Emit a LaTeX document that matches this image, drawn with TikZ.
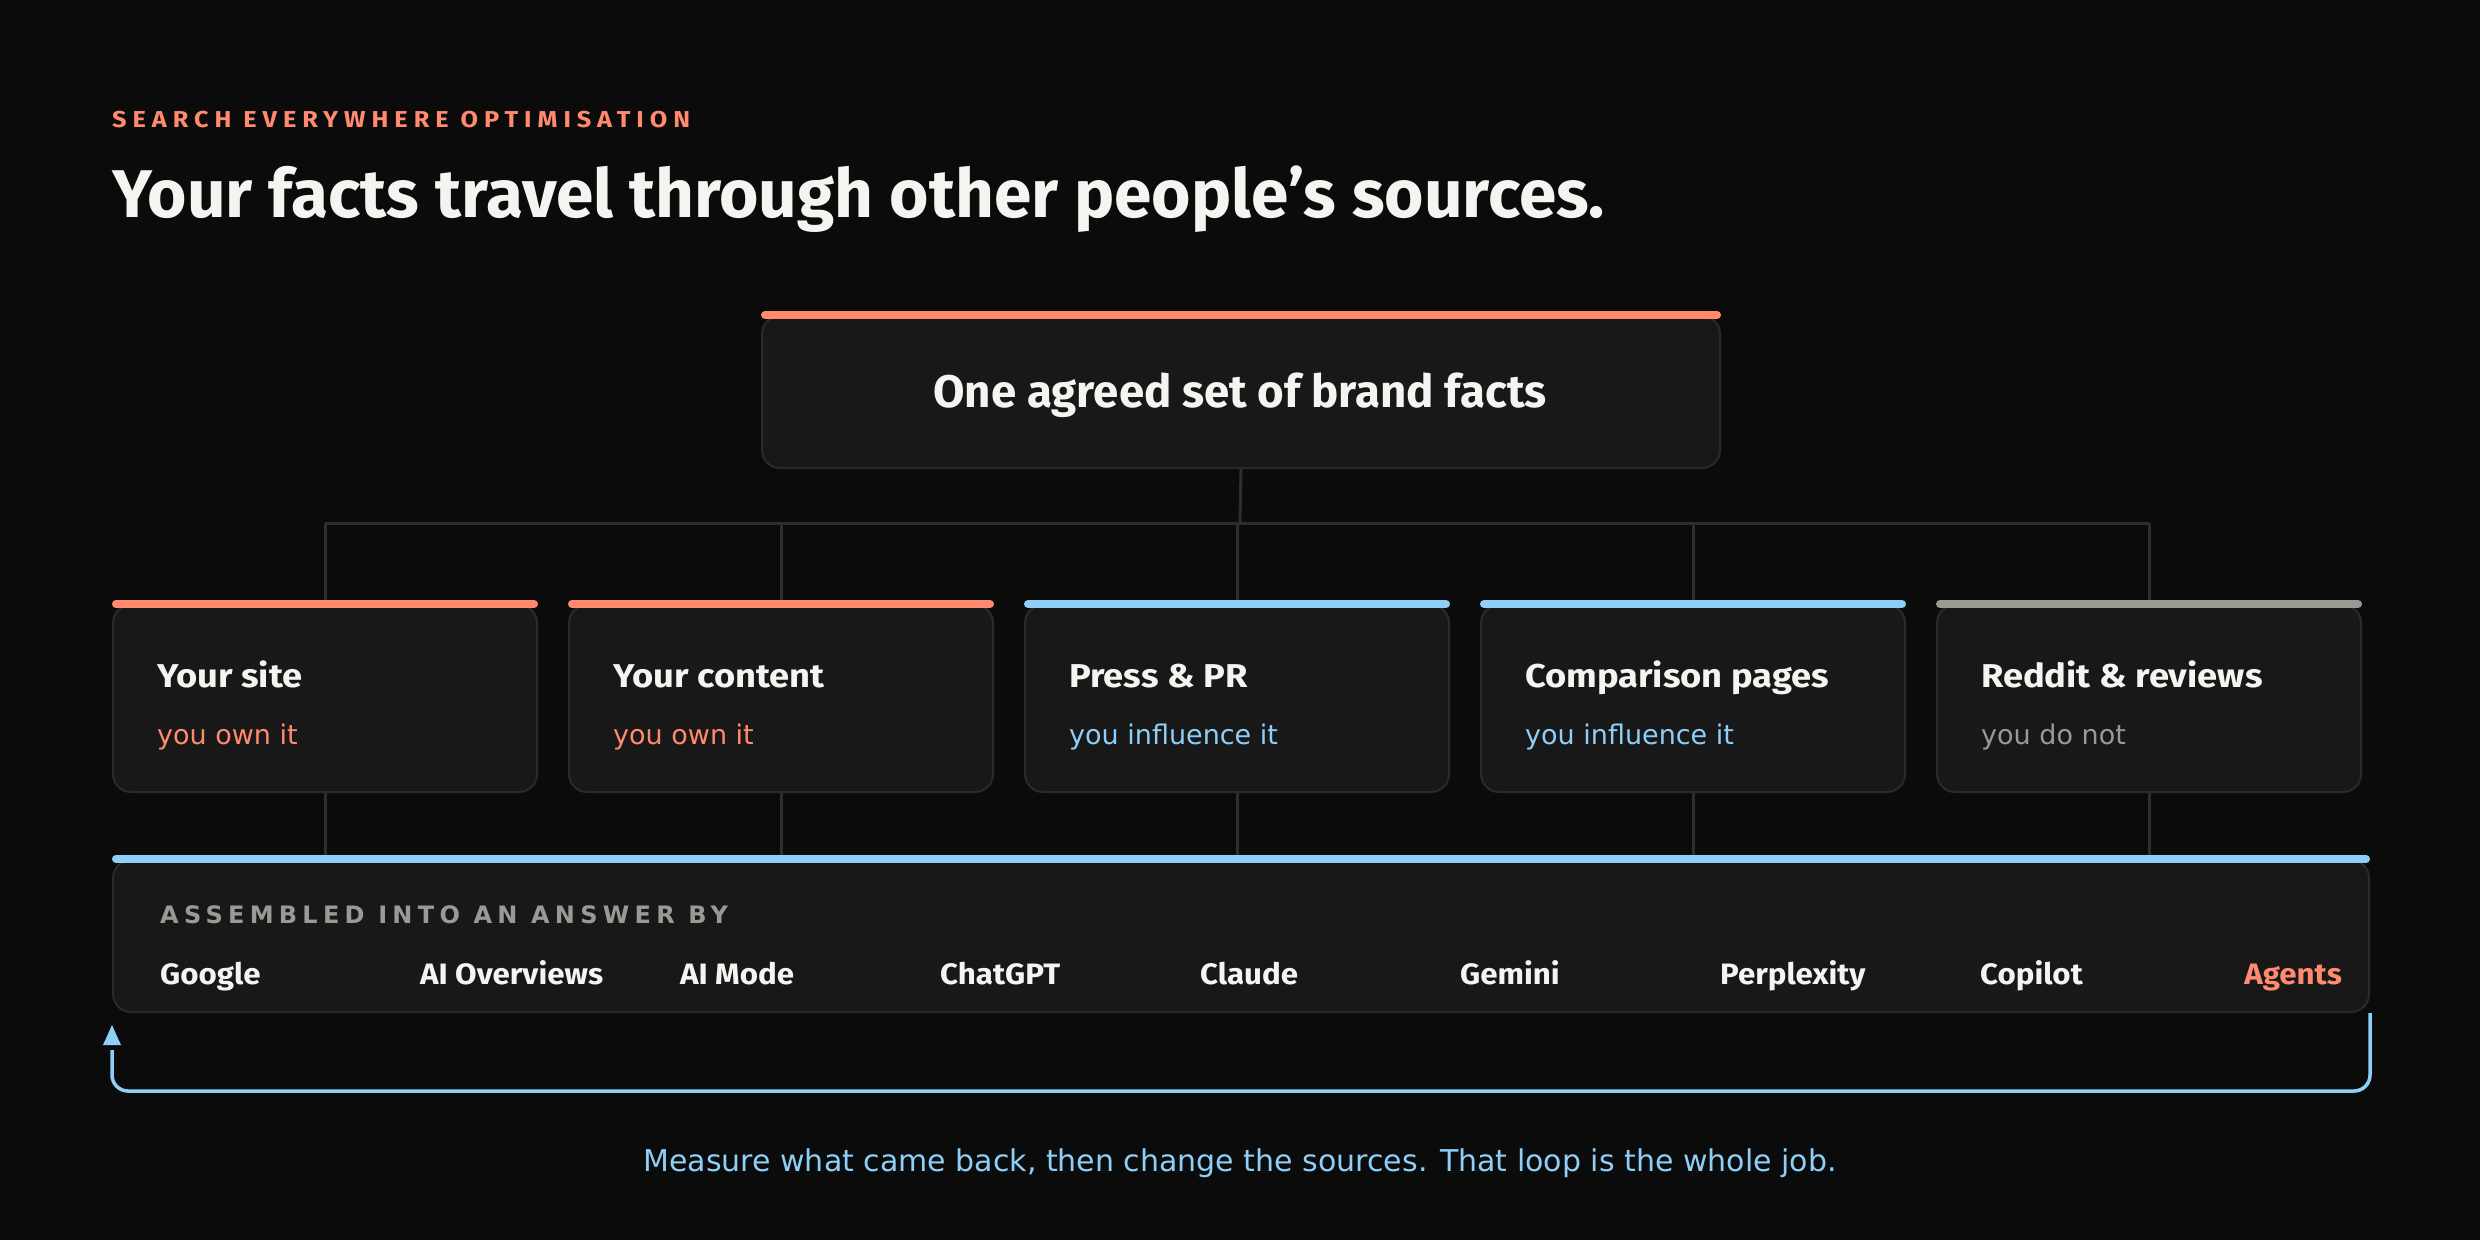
\documentclass[tikz,border=0pt]{standalone}
\usepackage{fontspec}
\setmainfont{DejaVu Sans}
\newfontfamily\hd{Fira Sans}
\usetikzlibrary{arrows.meta}
\definecolor{bg}{HTML}{0B0B0B}
\definecolor{cardfill}{HTML}{181818}
\definecolor{cardline}{HTML}{2A2A2A}
\definecolor{wirec}{HTML}{2E2E2E}
\definecolor{salmon}{HTML}{FF8A6E}
\definecolor{sky}{HTML}{8ECFF7}
\definecolor{stone}{HTML}{9A9A94}
\definecolor{ink}{HTML}{F4F4F0}
\tikzset{
  card/.style={draw=cardline, line width=2pt, fill=cardfill, rounded corners=18pt, inner sep=0pt, anchor=north west},
  wire/.style={draw=wirec, line width=3pt},
  accent/.style={line width=8pt, line cap=round},
  srctitle/.style={anchor=base west, text=ink, font=\hd\bfseries\fontsize{33}{38}\selectfont\addfontfeature{FakeStretch=1.1}, inner sep=0pt},
  srcsub/.style={anchor=base west, font=\fontsize{27}{32}\selectfont, inner sep=0pt},
  engine/.style={anchor=base west, text=ink, font=\hd\bfseries\fontsize{29.5}{34}\selectfont\addfontfeature{FakeStretch=1.06}, inner sep=0pt},
}
\begin{document}
\begin{tikzpicture}[x=1pt,y=-1pt]
\fill[bg] (0,0) rectangle (2480,1240);
\useasboundingbox (0,0) rectangle (2480,1240);

% header
\node[anchor=base west, inner sep=0pt, text=salmon, font=\hd\bfseries\fontsize{23}{28}\selectfont\addfontfeature{FakeStretch=1.1,LetterSpace=26}] (kicker) at (112,127) {SEARCH EVERYWHERE OPTIMISATION};
\node[anchor=base west, inner sep=0pt, text=ink, font=\hd\bfseries\fontsize{67.5}{78}\selectfont] (title) at (112,217) {Your facts travel through other people’s sources.};

% top card
\node[card, minimum width=958pt, minimum height=152pt] (top) at (761,315) {};
\draw[accent, salmon] ([xshift=4pt]top.north west) -- ([xshift=-4pt]top.north east);
\node[anchor=base, inner sep=0pt, text=ink, font=\hd\bfseries\fontsize{45.6}{52}\selectfont] (toptext) at (1240,407) {One agreed set of brand facts};

% source cards
\coordinate (hub) at (1240,523);
\foreach \i in {1,...,5}{
  \node[card, minimum width=424pt, minimum height=187pt] (s\i) at ({112+456*(\i-1)},604) {};
}
\node[card, minimum width=2256pt, minimum height=152pt] (ans) at (112,859) {};

% wires
\draw[wire] (top.south) -- (hub);
\draw[wire] (s1.north |- hub) -- (s5.north |- hub);
\foreach \i in {1,...,5}{
  \draw[wire] (s\i.north |- hub) -- (s\i.north);
  \draw[wire] (s\i.south) -- (s\i.south |- ans.north);
}

\foreach \i/\c in {1/salmon,2/salmon,3/sky,4/sky,5/stone}{
  \draw[accent, \c] ([xshift=4pt]s\i.north west) -- ([xshift=-4pt]s\i.north east);
}
\draw[accent, sky] ([xshift=4pt]ans.north west) -- ([xshift=-4pt]ans.north east);

\node[srctitle] (t1) at ([shift={(45pt,-83pt)}]s1.north west) {Your site};
\node[srcsub, text=salmon] (u1) at ([shift={(45pt,-140pt)}]s1.north west) {you own it};
\node[srctitle] (t2) at ([shift={(45pt,-83pt)}]s2.north west) {Your content};
\node[srcsub, text=salmon] (u2) at ([shift={(45pt,-140pt)}]s2.north west) {you own it};
\node[srctitle] (t3) at ([shift={(45pt,-83pt)}]s3.north west) {Press \& PR};
\node[srcsub, text=sky] (u3) at ([shift={(45pt,-140pt)}]s3.north west) {you influence it};
\node[srctitle] (t4) at ([shift={(45pt,-83pt)}]s4.north west) {Comparison pages};
\node[srcsub, text=sky] (u4) at ([shift={(45pt,-140pt)}]s4.north west) {you influence it};
\node[srctitle] (t5) at ([shift={(45pt,-83pt)}]s5.north west) {Reddit \& reviews};
\node[srcsub, text=stone] (u5) at ([shift={(45pt,-140pt)}]s5.north west) {you do not};

% answer card
\node[anchor=base west, inner sep=0pt, text=stone, font=\bfseries\fontsize{24}{28}\selectfont\addfontfeature{LetterSpace=22}] (asm) at (160,923) {ASSEMBLED INTO AN ANSWER BY};
\node[engine] (e1) at (160,984) {Google};
\node[engine] (e2) at (420,984) {AI Overviews};
\node[engine] (e3) at (680,984) {AI Mode};
\node[engine] (e4) at (940,984) {ChatGPT};
\node[engine] (e5) at (1200,984) {Claude};
\node[engine] (e6) at (1460,984) {Gemini};
\node[engine] (e7) at (1720,984) {Perplexity};
\node[engine] (e8) at (1980,984) {Copilot};
\node[engine, text=salmon, anchor=base east] (e9) at (2342,984) {Agents};

% feedback loop
\coordinate (loopbot) at (1240,1091);
\draw[sky, line width=3.5pt, rounded corners=16pt] (ans.south east) -- (ans.south east |- loopbot) -- (ans.south west |- loopbot) -- ([yshift=-37pt]ans.south west);
\fill[sky] ([yshift=-12pt]ans.south west) -- ([shift={(9pt,-32pt)}]ans.south west) -- ([shift={(-9pt,-32pt)}]ans.south west) -- cycle;

\node[anchor=base, inner sep=0pt, text=sky, font=\fontsize{30}{35}\selectfont] (foot) at (1240,1171) {Measure what came back, then change the sources. That loop is the whole job.};
\end{tikzpicture}
\end{document}
